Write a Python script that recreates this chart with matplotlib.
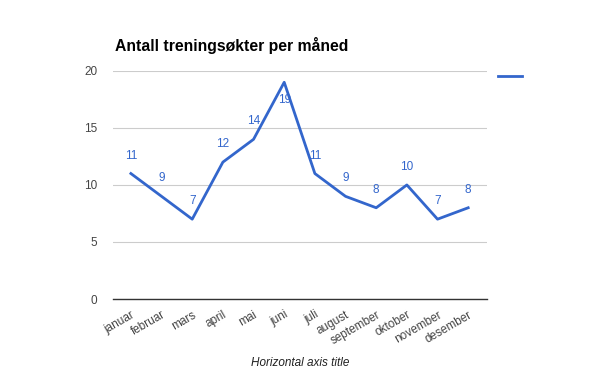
import matplotlib.pyplot as plt

plt.rcParams['font.family'] = ['Liberation Sans', 'DejaVu Sans']

months = ["januar", "februar", "mars", "april", "mai", "juni", "juli",
          "august", "september", "oktober", "november", "desember"]
sessions = [11, 9, 7, 12, 14, 19, 11, 9, 8, 10, 7, 8]
y_ticks = [0, 5, 10, 15, 20]

blue = "#3366cc"

fig = plt.figure(figsize=(6, 3.71), dpi=100)
ax = fig.add_axes([0.188, 0.194, 0.624, 0.615])

x = list(range(len(months)))
ax.plot(x, sessions, color=blue, lw=2, solid_joinstyle="round", zorder=3)

top = max(y_ticks)
for i, v in enumerate(sessions):
    # label goes below the point when it would run into the top of the plot
    dy = -18 if v > top - 2 else 18
    ax.annotate(str(v), (i, v), xytext=(0, dy), textcoords="offset pixels",
                ha="center", va="center", color=blue, fontsize=8.5, zorder=4)

ax.set_xlim(-0.59, len(months) - 0.38)
ax.set_ylim(0, top)
ax.set_yticks(y_ticks)
ax.set_xticks(x)
ax.set_xticklabels(months, rotation=30, ha="right", rotation_mode="anchor")
ax.tick_params(axis="both", length=0, labelsize=8.5, labelcolor="#444444")
ax.tick_params(axis="y", pad=11)
ax.tick_params(axis="x", pad=7)

ax.grid(axis="y", color="#cccccc", lw=0.8)
ax.set_axisbelow(True)
for s in ["top", "right", "left"]:
    ax.spines[s].set_visible(False)
ax.spines["bottom"].set_color("#333333")
ax.spines["bottom"].set_linewidth(1)

ax.set_xlabel("Horizontal axis title", fontsize=8.5, style="italic",
              color="#222222", labelpad=7)
fig.text(115 / 600, 1 - 45 / 371, "Antall treningsøkter per måned",
         fontsize=11.3, fontweight="bold", color="#000000", va="center")

# legend: line only, no text
fig.add_artist(plt.Line2D([498 / 600, 522 / 600], [1 - 76 / 371, 1 - 76 / 371],
                          color=blue, lw=2))

fig.savefig("out.png", dpi=100)
